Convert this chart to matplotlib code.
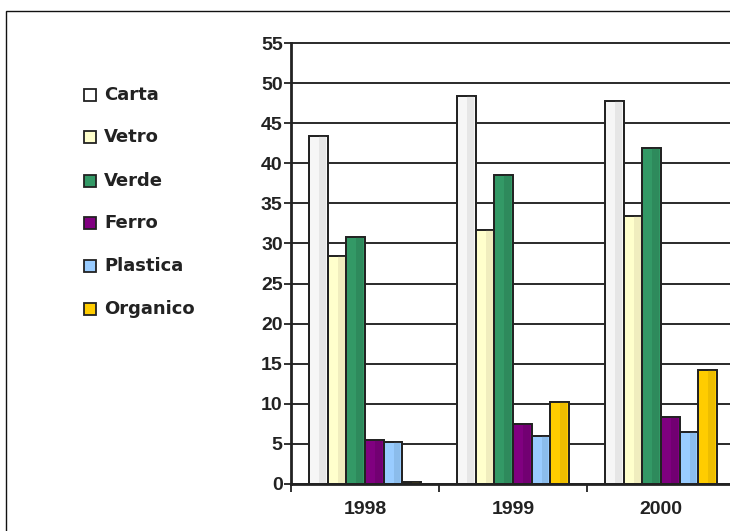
import matplotlib
matplotlib.use("Agg")
import matplotlib.pyplot as plt
import numpy as np
from matplotlib.patches import Rectangle

years = ["1998", "1999", "2000"]
series = ["Carta", "Vetro", "Verde", "Ferro", "Plastica", "Organico"]
carta = [43.4, 48.4, 47.8]
vetro = [28.4, 31.7, 33.4]
verde = [30.8, 38.5, 41.9]
ferro = [5.5, 7.5, 8.4]
plastica = [5.2, 6.0, 6.5]
organico = [0.2, 10.2, 14.2]
yticks = list(range(0, 60, 5))

values = [carta, vetro, verde, ferro, plastica, organico]
colors = ["#F6F6F6", "#FFFFCC", "#339966", "#800080", "#99CCFF", "#FFCC00"]
stripes = ["#E6E6E6", "#F0EDBE", "#2E8A5C", "#720072", "#8BBCEB", "#EDBD00"]
legend_colors = ["#FFFFFF", "#FFFFCC", "#339966", "#800080", "#99CCFF", "#FFCC00"]

W, H = 730, 531
fig = plt.figure(figsize=(W / 100, H / 100), dpi=100)
fontfam = ["Liberation Sans", "DejaVu Sans"]

# outer frame
fig.add_artist(Rectangle((6 / W, -0.1), 1.2, (H - 11) / H + 0.1, transform=fig.transFigure,
                         fill=False, edgecolor="#111111", linewidth=1.0))

ax_left = 291 / W
ax_bottom = (H - 484) / H
ax_w = 444 / W
ax_h = 441 / H
ax = fig.add_axes([ax_left, ax_bottom, ax_w, ax_h])
ax.patch.set_alpha(0)

n = len(series)
group = 0.755
bw = group / n
x = np.arange(len(years))
for i, (vals, c, sc) in enumerate(zip(values, colors, stripes)):
    offs = x - group / 2 + bw * (i + 0.5)
    ax.bar(offs, vals, width=bw, color=c, edgecolor="#222222", linewidth=1.3, zorder=3)
    # shading stripe
    ax.bar(offs + bw * 0.22, vals, width=bw * 0.36, color=sc, edgecolor="none",
           linewidth=0, zorder=3.5)
    ax.bar(offs, vals, width=bw, fill=False, edgecolor="#222222", linewidth=1.3, zorder=4)

ax.set_xlim(-0.5, 2.5)
ax.set_ylim(0, 55)
ax.set_yticks(yticks)
ax.set_yticklabels([str(t) for t in yticks], fontsize=14, fontweight="bold",
                   family=fontfam, color="#222222")
ax.yaxis.grid(True, color="#2a2a2a", linewidth=1.4, zorder=0)
ax.set_axisbelow(True)
ax.tick_params(axis="y", length=5, width=1.3, pad=1, color="#222222")
for gl in ax.get_ygridlines():
    gl.set_clip_on(False)

ax.set_xticks(x)
ax.set_xticklabels(years, fontsize=14, fontweight="bold", family=fontfam, color="#222222")
ax.set_xticks([-0.5, 0.5, 1.5], minor=True)
ax.tick_params(axis="x", which="major", length=0, pad=12)
ax.tick_params(axis="x", which="minor", length=6, width=1.3, color="#222222")

for s in ["top", "right"]:
    ax.spines[s].set_visible(False)
for s in ["left", "bottom"]:
    ax.spines[s].set_linewidth(2.0)
    ax.spines[s].set_color("#222222")
    ax.spines[s].set_zorder(5)

# legend drawn manually
ys = [95, 137, 181, 223, 266, 309]
for name, lc, yy in zip(series, legend_colors, ys):
    fig.add_artist(Rectangle((84 / W, (H - yy - 6) / H), 12 / W, 12 / H,
                             transform=fig.transFigure, facecolor=lc,
                             edgecolor="#222222", linewidth=1.3))
    fig.text(104 / W, (H - yy) / H, name, fontsize=13, fontweight="bold",
             family=["DejaVu Sans"], color="#222222", va="center", ha="left")

fig.savefig("out.png", dpi=100)
